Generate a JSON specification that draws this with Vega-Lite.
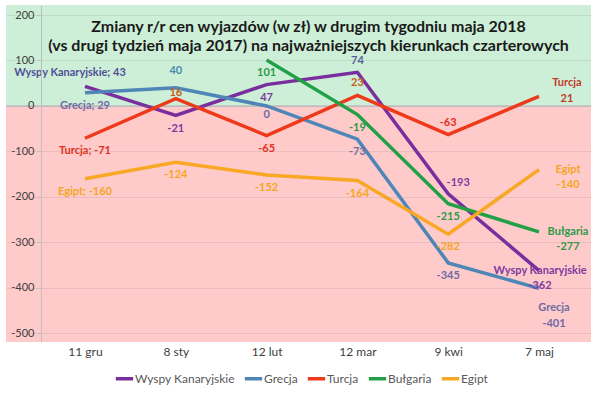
{
  "$schema": "https://vega.github.io/schema/vega-lite/v6.json",
  "width": 585,
  "height": 337,
  "padding": {"left": 5, "top": 5, "right": 5, "bottom": 5},
  "background": "white",
  "config": {
    "view": {"stroke": null},
    "font": "Lato",
    "text": {"font": "Lato"}
  },
  "title": {
    "text": ["Zmiany r/r cen wyjazdów (w zł) w drugim tygodniu maja 2018", "(vs drugi tydzień maja 2017) na najważniejszych kierunkach czarterowych"],
    "font": "Lato",
    "fontSize": 16,
    "fontWeight": "bold",
    "color": "#1a1a1a",
    "anchor": "middle",
    "frame": "group",
    "offset": -49,
    "dx": 10,
    "lineHeight": 19
  },
  "datasets": {
    "pts": [
      {"s": "Wyspy Kanaryjskie", "d": "11 gru", "v": 43},
      {"s": "Wyspy Kanaryjskie", "d": "8 sty", "v": -21},
      {"s": "Wyspy Kanaryjskie", "d": "12 lut", "v": 47},
      {"s": "Wyspy Kanaryjskie", "d": "12 mar", "v": 74},
      {"s": "Wyspy Kanaryjskie", "d": "9 kwi", "v": -193},
      {"s": "Wyspy Kanaryjskie", "d": "7 maj", "v": -362},
      {"s": "Grecja", "d": "11 gru", "v": 29},
      {"s": "Grecja", "d": "8 sty", "v": 40},
      {"s": "Grecja", "d": "12 lut", "v": 0},
      {"s": "Grecja", "d": "12 mar", "v": -73},
      {"s": "Grecja", "d": "9 kwi", "v": -345},
      {"s": "Grecja", "d": "7 maj", "v": -401},
      {"s": "Turcja", "d": "11 gru", "v": -71},
      {"s": "Turcja", "d": "8 sty", "v": 16},
      {"s": "Turcja", "d": "12 lut", "v": -65},
      {"s": "Turcja", "d": "12 mar", "v": 23},
      {"s": "Turcja", "d": "9 kwi", "v": -63},
      {"s": "Turcja", "d": "7 maj", "v": 21},
      {"s": "Bułgaria", "d": "12 lut", "v": 101},
      {"s": "Bułgaria", "d": "12 mar", "v": -19},
      {"s": "Bułgaria", "d": "9 kwi", "v": -215},
      {"s": "Bułgaria", "d": "7 maj", "v": -277},
      {"s": "Egipt", "d": "11 gru", "v": -160},
      {"s": "Egipt", "d": "8 sty", "v": -124},
      {"s": "Egipt", "d": "12 lut", "v": -152},
      {"s": "Egipt", "d": "12 mar", "v": -164},
      {"s": "Egipt", "d": "9 kwi", "v": -282},
      {"s": "Egipt", "d": "7 maj", "v": -140}
    ]
  },
  "data": {"name": "pts"},
  "transform": [
    {"calculate": "indexof(['11 gru','8 sty','12 lut','12 mar','9 kwi','7 maj'], datum.d)", "as": "i"},
    {"calculate": "datum.s + '|' + datum.d", "as": "k"},
    {"calculate": "datum.d == '11 gru' ? datum.s + '; ' + datum.v : (datum.d == '7 maj' ? datum.s + '\\n' + datum.v : '' + datum.v)", "as": "lab"}
  ],
  "encoding": {
    "x": {
      "field": "d",
      "type": "ordinal",
      "sort": ["11 gru", "8 sty", "12 lut", "12 mar", "9 kwi", "7 maj"],
      "scale": {"type": "point", "padding": 0.7214, "align": 0.603},
      "axis": {"title": null, "domain": false, "ticks": false, "grid": false, "labelAngle": 0, "labelFontSize": 12, "labelColor": "#404040", "labelPadding": 4, "labelFont": "Lato"}
    }
  },
  "layer": [
    {
      "mark": {"type": "rect", "color": "#CDEFD7"},
      "encoding": {
        "x": null,
        "y": {"datum": 222, "type": "quantitative", "scale": {"domain": [-519, 222], "nice": false, "zero": false}},
        "y2": {"datum": 0}
      }
    },
    {
      "mark": {"type": "rect", "color": "#FFCACA"},
      "encoding": {
        "x": null,
        "y": {"datum": 0, "type": "quantitative"},
        "y2": {"datum": -519}
      }
    },
    {
      "mark": {"type": "rule", "color": "#C8C8C8", "strokeWidth": 1},
      "encoding": {"x": null, "y": {"datum": 0, "type": "quantitative"}}
    },
    {
      "mark": {"type": "line", "strokeWidth": 3.5, "strokeJoin": "miter"},
      "encoding": {
        "y": {
          "field": "v", "type": "quantitative",
          "scale": {"domain": [-519, 222], "nice": false, "zero": false},
          "axis": {"title": null, "orient": "left", "offset": -35, "zindex": 1, "values": [-500, -400, -300, -200, -100, 0, 100, 200], "labelExpr": "'' + datum.value", "grid": true, "gridColor": "#7a7a7a", "gridOpacity": 0.16, "domainColor": "#BFBFBF", "tickColor": "#BFBFBF", "tickSize": 4, "labelPadding": 3, "labelFontSize": 11, "labelColor": "#404040", "labelFont": "Lato"}
        },
        "color": {
          "field": "s", "type": "nominal",
          "scale": {"domain": ["Wyspy Kanaryjskie", "Grecja", "Turcja", "Bułgaria", "Egipt"], "range": ["#7A2E9E", "#4F86B8", "#EE3A1A", "#22A046", "#F9A825"]},
          "legend": {"title": null, "orient": "none", "legendX": 108, "legendY": 363, "direction": "horizontal", "symbolType": "stroke", "symbolStrokeWidth": 3.5, "symbolSize": 300, "labelFontSize": 12, "labelColor": "#595959", "labelFont": "Lato", "labelOffset": 0, "columnPadding": 2}
        },
        "order": {"field": "i", "type": "quantitative"}
      }
    },
    {
      "transform": [{"filter": {"field": "k", "oneOf": ["Grecja|11 gru", "Turcja|11 gru", "Egipt|11 gru", "Wyspy Kanaryjskie|8 sty", "Egipt|8 sty", "Bułgaria|12 lut", "Wyspy Kanaryjskie|12 lut", "Turcja|12 lut", "Egipt|12 lut", "Bułgaria|12 mar", "Grecja|12 mar", "Egipt|12 mar", "Bułgaria|9 kwi", "Egipt|9 kwi", "Grecja|9 kwi"]}}],
      "mark": {"type": "text", "fontSize": 11, "fontWeight": "bold", "dy": 13, "baseline": "middle", "align": "center"},
      "encoding": {
        "y": {"field": "v", "type": "quantitative"},
        "text": {"field": "lab"},
        "fill": {"field": "s", "type": "nominal", "legend": null, "scale": {"domain": ["Wyspy Kanaryjskie", "Grecja", "Turcja", "Bułgaria", "Egipt"], "range": ["#7E3A9E", "#6E6BA6", "#E0301C", "#2E9A48", "#F5A623"]}}
      }
    },
    {
      "transform": [{"filter": {"field": "k", "oneOf": ["Grecja|12 lut"]}}],
      "mark": {"type": "text", "fontSize": 11, "fontWeight": "bold", "dy": 9, "baseline": "middle", "align": "center"},
      "encoding": {
        "y": {"field": "v", "type": "quantitative"},
        "text": {"field": "lab"},
        "fill": {"field": "s", "type": "nominal", "legend": null}
      }
    },
    {
      "transform": [{"filter": {"field": "k", "oneOf": ["Grecja|8 sty"]}}],
      "mark": {"type": "text", "fontSize": 11, "fontWeight": "bold", "dy": -17, "baseline": "middle", "align": "center", "color": "#4A8BB0"},
      "encoding": {
        "y": {"field": "v", "type": "quantitative"},
        "text": {"field": "lab"}
      }
    },
    {
      "transform": [{"filter": {"field": "k", "oneOf": ["Wyspy Kanaryjskie|12 mar"]}}],
      "mark": {"type": "text", "fontSize": 11, "fontWeight": "bold", "dy": -11, "baseline": "middle", "align": "center", "color": "#5A5E99"},
      "encoding": {
        "y": {"field": "v", "type": "quantitative"},
        "text": {"field": "lab"}
      }
    },
    {
      "transform": [{"filter": {"field": "k", "oneOf": ["Turcja|9 kwi"]}}],
      "mark": {"type": "text", "fontSize": 11, "fontWeight": "bold", "dy": -12, "baseline": "middle", "align": "center"},
      "encoding": {
        "y": {"field": "v", "type": "quantitative"},
        "text": {"field": "lab"},
        "fill": {"field": "s", "type": "nominal", "legend": null}
      }
    },
    {
      "transform": [{"filter": {"field": "k", "oneOf": ["Turcja|12 mar"]}}],
      "mark": {"type": "text", "fontSize": 11, "fontWeight": "bold", "dy": -13, "baseline": "middle", "align": "center", "color": "#C0601A"},
      "encoding": {
        "y": {"field": "v", "type": "quantitative"},
        "text": {"field": "lab"}
      }
    },
    {
      "transform": [{"filter": {"field": "k", "oneOf": ["Turcja|8 sty"]}}],
      "mark": {"type": "text", "fontSize": 11, "fontWeight": "bold", "dy": -6, "baseline": "middle", "align": "center", "color": "#C0601A"},
      "encoding": {
        "y": {"field": "v", "type": "quantitative"},
        "text": {"field": "lab"}
      }
    },
    {
      "transform": [{"filter": {"field": "k", "oneOf": ["Wyspy Kanaryjskie|11 gru"]}}],
      "mark": {"type": "text", "fontSize": 11, "fontWeight": "bold", "dx": -15, "dy": -13, "baseline": "middle", "align": "center", "color": "#4F4F99"},
      "encoding": {
        "y": {"field": "v", "type": "quantitative"},
        "text": {"field": "lab"}
      }
    },
    {
      "transform": [{"filter": {"field": "k", "oneOf": ["Wyspy Kanaryjskie|9 kwi"]}}],
      "mark": {"type": "text", "fontSize": 11, "fontWeight": "bold", "dx": 10, "dy": -11, "baseline": "middle", "align": "center"},
      "encoding": {
        "y": {"field": "v", "type": "quantitative"},
        "text": {"field": "lab"},
        "fill": {"field": "s", "type": "nominal", "legend": null}
      }
    },
    {
      "transform": [{"filter": {"field": "k", "oneOf": ["Egipt|7 maj", "Bułgaria|7 maj"]}}],
      "mark": {"type": "text", "fontSize": 11, "fontWeight": "bold", "dx": 29, "dy": 0, "baseline": "middle", "align": "center", "lineBreak": "\n", "lineHeight": 15},
      "encoding": {
        "y": {"field": "v", "type": "quantitative"},
        "text": {"field": "lab"},
        "fill": {"field": "s", "type": "nominal", "legend": null}
      }
    },
    {
      "transform": [{"filter": {"field": "k", "oneOf": ["Turcja|7 maj"]}}],
      "mark": {"type": "text", "fontSize": 11, "fontWeight": "bold", "dx": 28, "dy": -13, "baseline": "middle", "align": "center", "lineBreak": "\n", "lineHeight": 16, "color": "#C0392B"},
      "encoding": {
        "y": {"field": "v", "type": "quantitative"},
        "text": {"field": "lab"}
      }
    },
    {
      "transform": [{"filter": {"field": "k", "oneOf": ["Wyspy Kanaryjskie|7 maj"]}}],
      "mark": {"type": "text", "fontSize": 11, "fontWeight": "bold", "dx": 1, "dy": 0, "baseline": "middle", "align": "center", "lineBreak": "\n", "lineHeight": 15},
      "encoding": {
        "y": {"field": "v", "type": "quantitative"},
        "text": {"field": "lab"},
        "fill": {"field": "s", "type": "nominal", "legend": null}
      }
    },
    {
      "transform": [{"filter": {"field": "k", "oneOf": ["Grecja|7 maj"]}}],
      "mark": {"type": "text", "fontSize": 11, "fontWeight": "bold", "dx": 15, "dy": 20, "baseline": "middle", "align": "center", "lineBreak": "\n", "lineHeight": 16},
      "encoding": {
        "y": {"field": "v", "type": "quantitative"},
        "text": {"field": "lab"},
        "fill": {"field": "s", "type": "nominal", "legend": null}
      }
    }
  ]
}
